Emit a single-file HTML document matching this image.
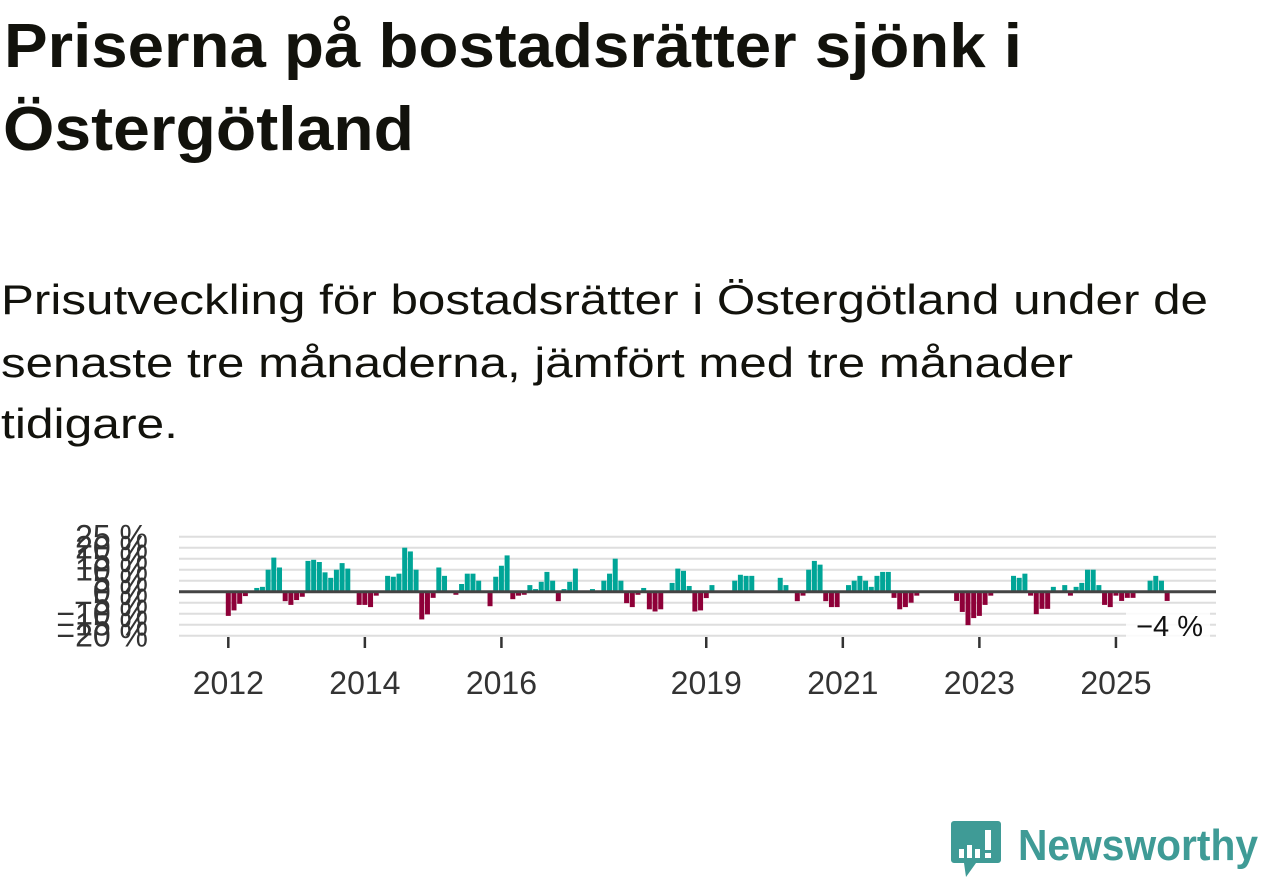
<!DOCTYPE html>
<html><head><meta charset="utf-8"><style>
html,body{margin:0;padding:0;background:#fff;width:1262px;height:879px;overflow:hidden}
svg{display:block}
</style></head><body>
<svg id="root" width="1262" height="879" viewBox="0 0 1262 879" xmlns="http://www.w3.org/2000/svg" font-family="'Liberation Sans', sans-serif">
<text x="4" y="67" font-size="62" font-weight="bold" fill="#12120c" textLength="1018" lengthAdjust="spacingAndGlyphs">Priserna på bostadsrätter sjönk i</text>
<text x="3" y="150" font-size="62" font-weight="bold" fill="#12120c" textLength="411" lengthAdjust="spacingAndGlyphs">Östergötland</text>
<text x="1" y="314" font-size="42" fill="#12120c" textLength="1207" lengthAdjust="spacingAndGlyphs">Prisutveckling för bostadsrätter i Östergötland under de</text>
<text x="1" y="377" font-size="42" fill="#12120c" textLength="1072" lengthAdjust="spacingAndGlyphs">senaste tre månaderna, jämfört med tre månader</text>
<text x="1" y="438" font-size="42" fill="#12120c" textLength="177" lengthAdjust="spacingAndGlyphs">tidigare.</text>
<g id="grid"></g>
<g id="ylabels"></g>
<g id="bars"></g>
<g id="xaxis"></g>
<rect x="1126" y="612" width="84" height="30" fill="#fff" opacity="0.85"/>
<text x="1203" y="636" font-size="29" fill="#111" text-anchor="end">−4 %</text>
<g>
<path d="M954 821 h44 a3 3 0 0 1 3 3 v36 a3 3 0 0 1 -3 3 h-22 l-10 14 l-2 -14 h-10 a3 3 0 0 1 -3 -3 v-36 a3 3 0 0 1 3 -3z" fill="#3f9b96"/>
<rect x="959" y="849" width="5" height="9" fill="#fff"/><rect x="967" y="845" width="5" height="13" fill="#fff"/><rect x="975" y="849" width="5" height="9" fill="#fff"/>
<rect x="985" y="830" width="6" height="20" fill="#fff"/><rect x="985" y="853" width="6" height="5" fill="#fff"/>
<text x="1018" y="860" font-size="44" font-weight="bold" fill="#3f9b96" textLength="240" lengthAdjust="spacingAndGlyphs">Newsworthy</text>
</g>
</svg>
<script>
const yTicks=[25,20,15,10,5,0,-5,-10,-15,-20];
const yTickLabels=["25 %","20 %","15 %","10 %","5 %","0 %","−5 %","−10 %","−15 %","−20 %"];
const xTickYears=[2012,2014,2016,2019,2021,2023,2025];
const startYear=2012;
const values=[-11,-8.5,-5.5,-2,0,1.7,2.2,10,15.5,11,-4.3,-6,
-3.8,-2.3,14,14.5,13.5,8.8,6.3,10,13,10.5,0,-6,
-6,-7,-1.8,0,7.2,6.8,8.2,20,18.3,10,-12.6,-10.3,
-2.8,11,7.2,0,-1.4,3.5,8.2,8.2,5,0,-6.6,6.8,
11.8,16.5,-3.4,-1.8,-1.4,3,1.2,4.5,9,5,-4.3,1.2,
4.5,10.5,0,0,1.2,0,5,8.2,15,5,-5.2,-7,
-1.4,1.7,-8,-9,-8,0,4,10.5,9.5,2.6,-9,-8.5,
-2.9,3,0,0,0,5,7.7,7.2,7.2,0,0,0,
0,6.3,3,0,-4.3,-1.8,10,14,12.3,-4.3,-7,-7,
0,3,5,7.2,5,2.2,7.2,9,9,-2.8,-8,-7,
-5,-1.8,0,0,0,0,0,0,-4.2,-9.2,-15.2,-12,
-11,-6,-1.8,0,0,0,7.2,6.3,8.2,-1.8,-10.2,-7.8,
-7.8,2.2,0,3,-1.8,2.2,4,10,10,3,-6,-7,
-1.8,-4.2,-2.8,-2.8,0,0,5,7.2,5,-4.2];
const NS="http://www.w3.org/2000/svg";
const x0=179,x1=1216;
function yScale(v){return 591.7-v*2.2;}
function xScale(i){return 228.3+i*5.69;}
function mk(tag,attrs,parent){const e=document.createElementNS(NS,tag);for(const k in attrs)e.setAttribute(k,attrs[k]);parent.appendChild(e);return e;}
const grid=document.getElementById('grid'),yl=document.getElementById('ylabels'),bars=document.getElementById('bars'),xa=document.getElementById('xaxis');
yTicks.forEach((t,k)=>{
  if(t===0)return;
  const l=mk('line',{x1:x0,x2:x1,y1:yScale(t),y2:yScale(t),stroke:'#dedede','stroke-width':2},grid);
  
  
});
yTicks.forEach((t,k)=>{
  const tx=mk('text',{x:148,y:yScale(t)+11,'font-size':32,fill:'#333','text-anchor':'end'},yl);
  tx.textContent=yTickLabels[k];
  
  
});
values.forEach((v,i)=>{
  if(v===0)return;
  const y=yScale(Math.max(v,0)),h=Math.abs(yScale(v)-yScale(0));
  const r=mk('rect',{x:xScale(i)-2.5,y:y,width:5,height:h,fill:v>0?'#00a597':'#8e0038'},bars);
  
  
});
const zl=mk('line',{x1:x0,x2:x1,y1:yScale(0),y2:yScale(0),stroke:'#444','stroke-width':3},xa);


xTickYears.forEach(yr=>{
  const x=xScale((yr-startYear)*12);
  const t=mk('line',{x1:x,x2:x,y1:637,y2:648,stroke:'#333','stroke-width':2.5},xa);
  
  
  const tx=mk('text',{x:x,y:694,'font-size':32,fill:'#333','text-anchor':'middle'},xa);
  tx.textContent=yr;
  
  
});
</script>
</body></html>
